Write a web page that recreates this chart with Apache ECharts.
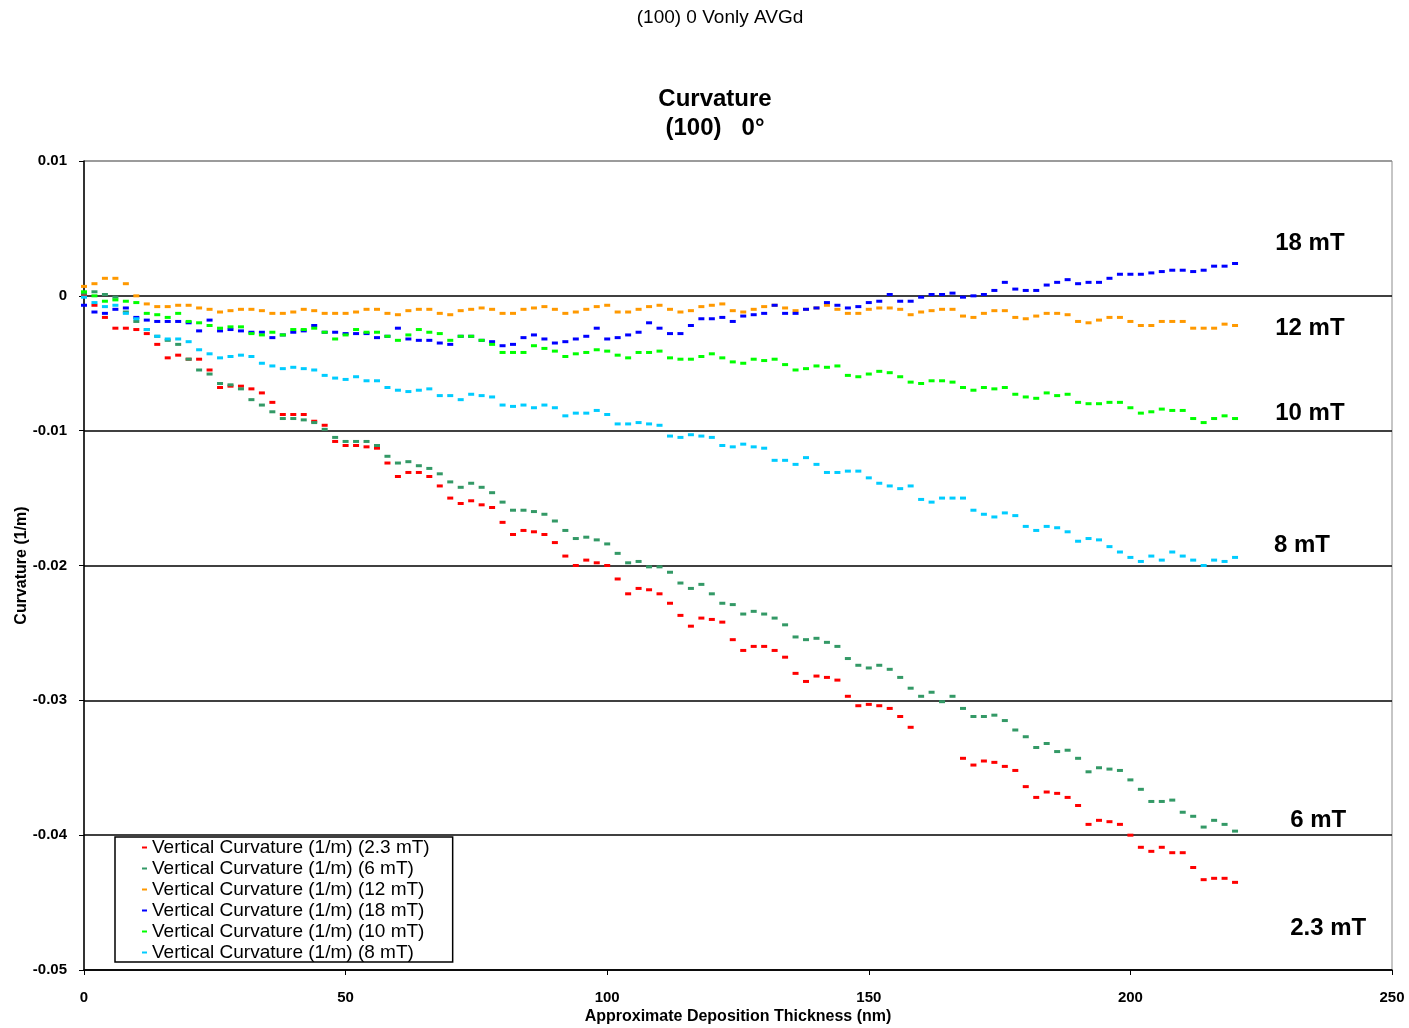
<!DOCTYPE html>
<html>
<head>
<meta charset="utf-8">
<title>Curvature (100) 0°</title>
<script src="https://cdn.jsdelivr.net/npm/echarts@6/dist/echarts.min.js"></script>
<style>
  html, body { margin: 0; padding: 0; background: #fff; }
  #chart { width: 1409px; height: 1028px; }
</style>
</head>
<body>
<div id="chart"></div>
<script>
// Approximate deposition thickness (nm) for each reading
const thickness = [
  0, 2, 4, 6, 8, 10, 12, 14, 16, 18,
  20, 22, 24, 26, 28, 30, 32, 34, 36, 38,
  40, 42, 44, 46, 48, 50, 52, 54, 56, 58,
  60, 62, 64, 66, 68, 70, 72, 74, 76, 78,
  80, 82, 84, 86, 88, 90, 92, 94, 96, 98,
  100, 102, 104, 106, 108, 110, 112, 114, 116, 118,
  120, 122, 124, 126, 128, 130, 132, 134, 136, 138,
  140, 142, 144, 146, 148, 150, 152, 154, 156, 158,
  160, 162, 164, 166, 168, 170, 172, 174, 176, 178,
  180, 182, 184, 186, 188, 190, 192, 194, 196, 198,
  200, 202, 204, 206, 208, 210, 212, 214, 216, 218,
  220
];

// Vertical curvature (1/m) at each field strength
const curv2p3mT = [
  0.0001, -0.0007, -0.0016, -0.0024, -0.0024, -0.0025, -0.0028, -0.0036, -0.0046, -0.0044,
  -0.0047, -0.0047, -0.0055, -0.0068, -0.0067, -0.0067, -0.0069, -0.0072, -0.0079, -0.0088,
  -0.0088, -0.0088, -0.0093, -0.0096, -0.0108, -0.0111, -0.0111, -0.0112, -0.0113, -0.0124,
  -0.0134, -0.0131, -0.0131, -0.0134, -0.0141, -0.0150, -0.0154, -0.0152, -0.0155, -0.0157,
  -0.0168, -0.0177, -0.0174, -0.0175, -0.0177, -0.0183, -0.0193, -0.0200, -0.0196, -0.0198,
  -0.0200, -0.0210, -0.0221, -0.0217, -0.0218, -0.0221, -0.0228, -0.0237, -0.0245, -0.0239,
  -0.0240, -0.0242, -0.0255, -0.0263, -0.0260, -0.0260, -0.0263, -0.0268, -0.0280, -0.0286,
  -0.0282, -0.0283, -0.0285, -0.0297, -0.0304, -0.0303, -0.0304, -0.0306, -0.0312, -0.0320,
  null, null, null, null, -0.0343, -0.0348, -0.0345, -0.0346, -0.0349, -0.0352,
  -0.0364, -0.0372, -0.0368, -0.0369, -0.0372, -0.0378, -0.0392, -0.0389, -0.0390, -0.0392,
  -0.0400, -0.0409, -0.0412, -0.0409, -0.0413, -0.0413, -0.0424, -0.0433, -0.0432, -0.0432,
  -0.0435
];
const curv6mT = [
  0.0002, 0.0003, 0.0001, -0.0001, -0.0012, -0.0019, -0.0025, -0.0030, -0.0033, -0.0036,
  -0.0047, -0.0055, -0.0058, -0.0065, -0.0066, -0.0069, -0.0077, -0.0081, -0.0086, -0.0091,
  -0.0091, -0.0092, -0.0094, -0.0099, -0.0105, -0.0108, -0.0108, -0.0108, -0.0111, -0.0119,
  -0.0124, -0.0123, -0.0126, -0.0128, -0.0132, -0.0138, -0.0142, -0.0139, -0.0142, -0.0146,
  -0.0153, -0.0159, -0.0159, -0.0160, -0.0162, -0.0167, -0.0174, -0.0180, -0.0179, -0.0181,
  -0.0184, -0.0191, -0.0198, -0.0197, -0.0201, -0.0201, -0.0205, -0.0213, -0.0217, -0.0214,
  -0.0221, -0.0228, -0.0229, -0.0236, -0.0234, -0.0236, -0.0239, -0.0244, -0.0253, -0.0255,
  -0.0254, -0.0257, -0.0260, -0.0269, -0.0274, -0.0276, -0.0274, -0.0277, -0.0283, -0.0291,
  -0.0297, -0.0294, -0.0301, -0.0297, -0.0306, -0.0312, -0.0312, -0.0311, -0.0315, -0.0322,
  -0.0327, -0.0335, -0.0332, -0.0338, -0.0337, -0.0343, -0.0353, -0.0350, -0.0351, -0.0352,
  -0.0359, -0.0366, -0.0375, -0.0375, -0.0374, -0.0383, -0.0386, -0.0394, -0.0389, -0.0392,
  -0.0397
];
const curv12mT = [
  0.0007, 0.0009, 0.0013, 0.0013, 0.0009, 0.0000, -0.0006, -0.0008, -0.0008, -0.0007,
  -0.0007, -0.0009, -0.0010, -0.0012, -0.0011, -0.0010, -0.0010, -0.0011, -0.0013, -0.0013,
  -0.0012, -0.0010, -0.0011, -0.0013, -0.0013, -0.0013, -0.0012, -0.0010, -0.0010, -0.0013,
  -0.0014, -0.0011, -0.0010, -0.0010, -0.0013, -0.0014, -0.0011, -0.0010, -0.0009, -0.0010,
  -0.0013, -0.0013, -0.0010, -0.0009, -0.0008, -0.0010, -0.0013, -0.0012, -0.0010, -0.0008,
  -0.0007, -0.0012, -0.0012, -0.0010, -0.0008, -0.0007, -0.0010, -0.0012, -0.0011, -0.0008,
  -0.0007, -0.0006, -0.0011, -0.0012, -0.0010, -0.0008, -0.0007, -0.0009, -0.0011, -0.0010,
  -0.0009, -0.0007, -0.0010, -0.0013, -0.0013, -0.0010, -0.0009, -0.0009, -0.0010, -0.0014,
  -0.0012, -0.0011, -0.0010, -0.0010, -0.0015, -0.0016, -0.0013, -0.0011, -0.0011, -0.0016,
  -0.0017, -0.0015, -0.0013, -0.0013, -0.0014, -0.0019, -0.0020, -0.0018, -0.0016, -0.0016,
  -0.0019, -0.0022, -0.0022, -0.0019, -0.0019, -0.0019, -0.0024, -0.0024, -0.0024, -0.0021,
  -0.0022
];
const curv18mT = [
  -0.0007, -0.0012, -0.0013, -0.0010, -0.0009, -0.0016, -0.0018, -0.0019, -0.0019, -0.0019,
  -0.0020, -0.0026, -0.0018, -0.0026, -0.0025, -0.0026, -0.0027, -0.0027, -0.0031, -0.0029,
  -0.0027, -0.0026, -0.0022, -0.0027, -0.0027, -0.0028, -0.0028, -0.0028, -0.0031, -0.0030,
  -0.0024, -0.0032, -0.0033, -0.0033, -0.0035, -0.0036, -0.0030, -0.0030, -0.0033, -0.0034,
  -0.0037, -0.0036, -0.0031, -0.0029, -0.0032, -0.0035, -0.0034, -0.0032, -0.0030, -0.0024,
  -0.0032, -0.0031, -0.0029, -0.0027, -0.0020, -0.0024, -0.0028, -0.0028, -0.0022, -0.0017,
  -0.0017, -0.0016, -0.0019, -0.0015, -0.0014, -0.0013, -0.0007, -0.0013, -0.0013, -0.0010,
  -0.0009, -0.0005, -0.0007, -0.0009, -0.0008, -0.0005, -0.0004, 0.0001, -0.0004, -0.0004,
  -0.0001, 0.0001, 0.0001, 0.0002, -0.0001, 0.0000, 0.0001, 0.0004, 0.0010, 0.0005,
  0.0004, 0.0004, 0.0008, 0.0010, 0.0012, 0.0009, 0.0010, 0.0010, 0.0013, 0.0016,
  0.0016, 0.0016, 0.0017, 0.0018, 0.0019, 0.0019, 0.0018, 0.0019, 0.0022, 0.0022,
  0.0024
];
const curv10mT = [
  0.0003, 0.0000, -0.0004, -0.0003, -0.0004, -0.0005, -0.0013, -0.0014, -0.0016, -0.0013,
  -0.0019, -0.0020, -0.0022, -0.0024, -0.0023, -0.0023, -0.0028, -0.0029, -0.0027, -0.0029,
  -0.0025, -0.0025, -0.0024, -0.0027, -0.0032, -0.0029, -0.0025, -0.0027, -0.0027, -0.0030,
  -0.0033, -0.0029, -0.0025, -0.0027, -0.0028, -0.0033, -0.0030, -0.0030, -0.0033, -0.0036,
  -0.0042, -0.0042, -0.0042, -0.0037, -0.0039, -0.0041, -0.0045, -0.0043, -0.0042, -0.0040,
  -0.0041, -0.0044, -0.0046, -0.0042, -0.0042, -0.0041, -0.0046, -0.0047, -0.0047, -0.0045,
  -0.0043, -0.0046, -0.0049, -0.0050, -0.0047, -0.0048, -0.0047, -0.0051, -0.0055, -0.0054,
  -0.0052, -0.0053, -0.0052, -0.0059, -0.0060, -0.0058, -0.0056, -0.0057, -0.0060, -0.0064,
  -0.0065, -0.0063, -0.0063, -0.0064, -0.0068, -0.0070, -0.0068, -0.0069, -0.0068, -0.0073,
  -0.0075, -0.0076, -0.0072, -0.0074, -0.0073, -0.0079, -0.0080, -0.0080, -0.0079, -0.0079,
  -0.0083, -0.0087, -0.0086, -0.0084, -0.0085, -0.0085, -0.0091, -0.0094, -0.0091, -0.0089,
  -0.0091
];
const curv8mT = [
  -0.0001, -0.0005, -0.0008, -0.0007, -0.0013, -0.0017, -0.0025, -0.0030, -0.0032, -0.0032,
  -0.0034, -0.0040, -0.0043, -0.0046, -0.0045, -0.0044, -0.0045, -0.0050, -0.0052, -0.0054,
  -0.0053, -0.0054, -0.0055, -0.0059, -0.0061, -0.0062, -0.0060, -0.0063, -0.0063, -0.0068,
  -0.0070, -0.0071, -0.0070, -0.0069, -0.0074, -0.0074, -0.0077, -0.0073, -0.0074, -0.0075,
  -0.0081, -0.0082, -0.0081, -0.0083, -0.0081, -0.0083, -0.0089, -0.0087, -0.0087, -0.0085,
  -0.0088, -0.0095, -0.0095, -0.0094, -0.0095, -0.0096, -0.0104, -0.0105, -0.0103, -0.0104,
  -0.0105, -0.0111, -0.0112, -0.0110, -0.0112, -0.0113, -0.0122, -0.0122, -0.0125, -0.0120,
  -0.0125, -0.0131, -0.0131, -0.0130, -0.0130, -0.0135, -0.0139, -0.0141, -0.0143, -0.0141,
  -0.0151, -0.0153, -0.0150, -0.0150, -0.0150, -0.0159, -0.0162, -0.0164, -0.0161, -0.0163,
  -0.0171, -0.0174, -0.0171, -0.0172, -0.0175, -0.0182, -0.0180, -0.0181, -0.0186, -0.0190,
  -0.0194, -0.0197, -0.0193, -0.0196, -0.0190, -0.0193, -0.0196, -0.0200, -0.0196, -0.0197,
  -0.0194
];

const seriesNames = [
  'Vertical Curvature (1/m) (2.3 mT)',
  'Vertical Curvature (1/m) (6 mT)',
  'Vertical Curvature (1/m) (12 mT)',
  'Vertical Curvature (1/m) (18 mT)',
  'Vertical Curvature (1/m) (10 mT)',
  'Vertical Curvature (1/m) (8 mT)'
];
const seriesValues = [curv2p3mT, curv6mT, curv12mT, curv18mT, curv10mT, curv8mT];
const seriesColors = ['#FF0000', '#339966', '#FF9900', '#0000FF', '#00FF00', '#00CCFF'];

// Field-strength tags placed beside the end of each curve (data coordinates)
const fieldTags = ['18 mT', '12 mT', '10 mT', '8 mT', '6 mT', '2.3 mT'];
const fieldTagX = [234.3, 234.3, 234.3, 232.8, 235.9, 237.8];
const fieldTagY = [0.0039, -0.0024, -0.0087, -0.0185, -0.0389, -0.0469];

const yTicks = { min: -0.05, max: 0.01, interval: 0.01 };
const xTicks = { min: 0, max: 250, interval: 50 };

const FONT = '"Liberation Sans", Arial, Helvetica, sans-serif';

function pairs(values) {
  const out = [];
  values.forEach((v, i) => { if (v !== null) out.push([thickness[i], v]); });
  return out;
}

const chart = echarts.init(document.getElementById('chart'), null, { renderer: 'canvas' });

const dataSeries = seriesNames.map((name, i) => ({
  name: name,
  type: 'scatter',
  data: pairs(seriesValues[i]),
  symbol: 'rect',
  symbolSize: [6, 3],
  itemStyle: { color: seriesColors[i], opacity: 1 },
  silent: true,
  z: 3
}));

const tagSeries = {
  name: 'field tags',
  type: 'scatter',
  symbolSize: 0,
  silent: true,
  z: 4,
  itemStyle: { opacity: 1 },
  data: fieldTags.map((t, i) => ({ name: t, value: [fieldTagX[i], fieldTagY[i]] })),
  label: {
    show: true,
    position: 'inside',
    formatter: p => p.name,
    fontFamily: FONT,
    fontSize: 24,
    fontWeight: 'bold',
    color: '#000',
    opacity: 1,
    textBorderWidth: 0
  }
};

chart.setOption({
  animation: false,
  backgroundColor: '#fff',
  textStyle: { fontFamily: FONT },
  graphic: [
    { type: 'text', x: 720, y: 18, style: { text: '(100) 0 Vonly AVGd', textAlign: 'center', textVerticalAlign: 'middle', font: '19px ' + FONT, fill: '#000' } },
    { type: 'text', x: 715, y: 99, style: { text: 'Curvature', textAlign: 'center', textVerticalAlign: 'middle', font: 'bold 24px ' + FONT, fill: '#000' } },
    { type: 'text', x: 715, y: 128, style: { text: '(100)   0°', textAlign: 'center', textVerticalAlign: 'middle', font: 'bold 24px ' + FONT, fill: '#000' } }
  ],
  grid: {
    left: 84, right: 17, top: 161, bottom: 58,
    containLabel: false,
    outerBoundsMode: 'none',
    show: true, borderColor: '#8c8c8c', borderWidth: 1, backgroundColor: 'transparent'
  },
  legend: {
    data: seriesNames,
    orient: 'vertical',
    left: 115,
    top: 837,
    itemWidth: 5,
    itemHeight: 2,
    itemGap: 2,
    icon: 'rect',
    padding: [1, 23, 0, 27],
    backgroundColor: '#fff',
    borderColor: '#000',
    borderWidth: 1.5,
    borderRadius: 0,
    selectedMode: false,
    textStyle: { fontFamily: FONT, fontSize: 19, color: '#000', padding: [0, 0, 0, 0] }
  },
  xAxis: {
    type: 'value',
    min: xTicks.min, max: xTicks.max, interval: xTicks.interval,
    name: 'Approximate Deposition Thickness (nm)',
    nameLocation: 'middle',
    nameGap: 39,
    nameMoveOverlap: false,
    nameTextStyle: { fontFamily: FONT, fontSize: 16, fontWeight: 'bold', color: '#000' },
    axisLine: { show: true, onZero: false, lineStyle: { color: '#000', width: 1.5 } },
    axisTick: { show: true, length: 5, lineStyle: { color: '#000', width: 1 } },
    axisLabel: { fontFamily: FONT, fontSize: 15, fontWeight: 'bold', color: '#000', margin: 20 },
    splitLine: { show: false }
  },
  yAxis: {
    type: 'value',
    min: yTicks.min, max: yTicks.max, interval: yTicks.interval,
    name: 'Curvature (1/m)',
    nameLocation: 'middle',
    nameGap: 54,
    nameMoveOverlap: false,
    nameRotate: 90,
    nameTextStyle: { fontFamily: FONT, fontSize: 16, fontWeight: 'bold', color: '#000' },
    axisLine: { show: true, onZero: false, lineStyle: { color: '#000', width: 1.5 } },
    axisTick: { show: true, length: 5, lineStyle: { color: '#000', width: 1 } },
    axisLabel: {
      fontFamily: FONT, fontSize: 15, fontWeight: 'bold', color: '#000', margin: 17,
      formatter: v => String(Math.round(v * 100) / 100)
    },
    splitLine: {
      show: true,
      lineStyle: { color: ['#000', '#000', '#000', '#000', '#000', '#000', '#8c8c8c'], width: 1.5 }
    }
  },
  series: dataSeries.concat([tagSeries])
});
</script>
</body>
</html>
